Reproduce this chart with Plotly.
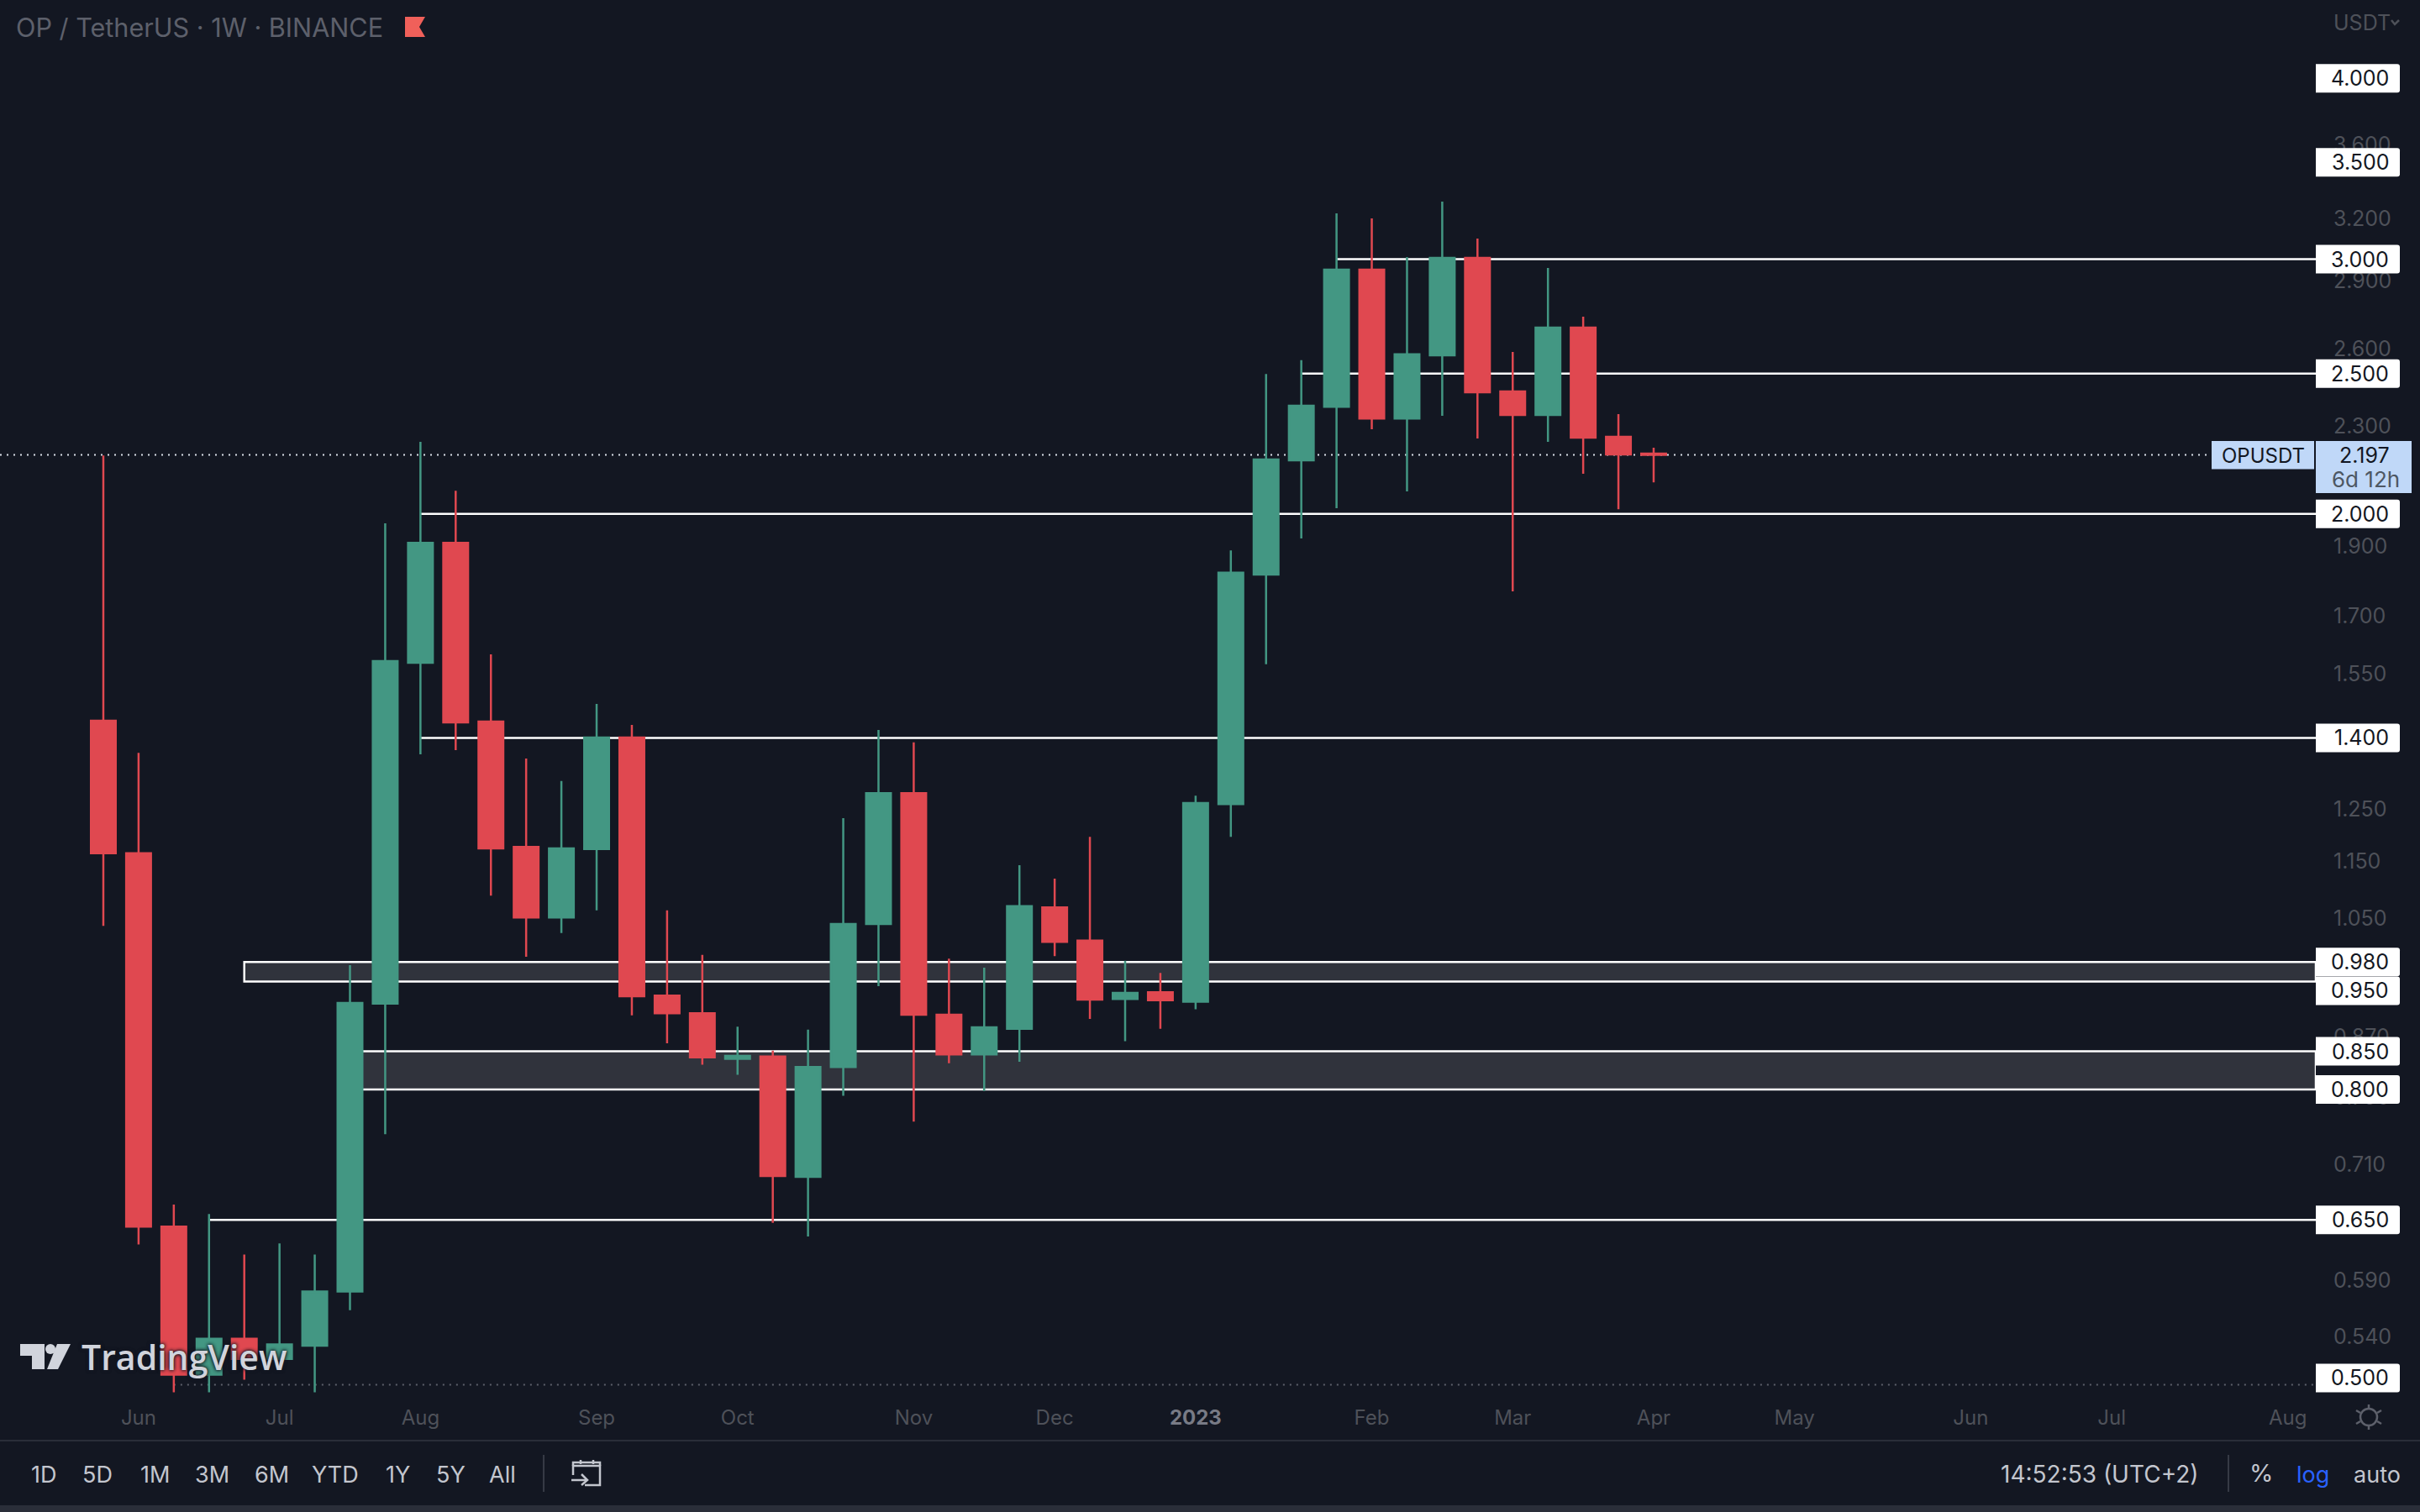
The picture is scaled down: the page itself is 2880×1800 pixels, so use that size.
import pandas as pd
import plotly.graph_objects as go
import math

first_bar = '2022-05-30'
n_bars = 45
opens = [1.439,1.165,0.643,0.508,0.538,0.521,0.532,0.58,0.917,1.578,1.91,1.437,1.177,1.052,1.173,1.401,0.929,0.903,0.84,0.843,0.696,0.829,1.041,1.282,0.901,0.846,0.881,1.069,1.014,0.924,0.934,0.92,1.26,1.816,2.178,2.372,2.95,2.328,2.574,3.006,2.43,2.341,2.69,2.261,2.201]
highs = [2.195,1.367,0.666,0.656,0.615,0.626,0.615,0.975,1.97,2.243,2.075,1.599,1.355,1.307,1.478,1.429,1.064,0.991,0.884,0.851,0.88,1.232,1.418,1.39,0.985,0.971,1.143,1.119,1.196,0.982,0.963,1.277,1.887,2.499,2.554,3.227,3.201,3.01,3.288,3.1,2.588,2.958,2.737,2.344,2.222]
lows = [1.038,0.625,0.494,0.494,0.504,0.521,0.494,0.563,0.745,1.364,1.373,1.089,0.988,1.026,1.064,0.9,0.861,0.832,0.819,0.647,0.633,0.792,0.943,0.76,0.834,0.798,0.836,0.989,0.895,0.864,0.881,0.909,1.196,1.574,1.923,2.018,2.288,2.073,2.338,2.255,1.768,2.243,2.132,2.015,2.103]
closes = [1.165,0.643,0.508,0.538,0.521,0.533,0.58,0.918,1.582,1.91,1.435,1.174,1.052,1.174,1.401,0.928,0.903,0.842,0.844,0.697,0.829,1.041,1.282,0.901,0.846,0.883,1.071,1.012,0.923,0.933,0.922,1.262,1.821,2.181,2.376,2.95,2.328,2.578,3.006,2.427,2.341,2.69,2.258,2.198,2.197]

price_ticks = [3.6,3.2,2.9,2.6,2.3,1.9,1.7,1.55,1.25,1.15,1.05,0.87,0.79,0.71,0.59,0.54]
month_ticks = ['2022-06-06','2022-07-04','2022-08-01','2022-09-05','2022-10-03','2022-11-07','2022-12-05','2023-01-02','2023-02-06','2023-03-06','2023-04-03','2023-05-01','2023-06-05','2023-07-03','2023-08-07']
month_labels = ['Jun','Jul','Aug','Sep','Oct','Nov','Dec','<b><span style="color:#787b86">2023</span></b>','Feb','Mar','Apr','May','Jun','Jul','Aug']

level_prices = [3.0,2.5,2.0,1.4,0.65]
level_starts = ['2023-01-30','2023-01-23','2022-08-01','2022-08-01','2022-06-20']
zone_lo = [0.95,0.80]
zone_hi = [0.98,0.85]
zone_starts = ['2022-06-27','2022-07-18']
floor_price = 0.5
floor_start = '2022-06-13'
last_price = 2.197
tag_prices = [4.0,3.5,3.0,2.5,2.0,1.4,0.98,0.95,0.85,0.8,0.65,0.5]
tag_shift = [0,0,0,0,0,0,0,-11,0,0,0,8]

W, H = 2880, 1800
BG = '#131722'; UP = '#439783'; DOWN = '#e04850'
AX = '#4e5159'; UI = '#c3c6ce'; INK = 'Inter, sans-serif'
AXIS_END = '2023-08-12 13:12'

dates = pd.date_range(first_bar, periods=n_bars, freq='7D')
fig = go.Figure(go.Candlestick(
    x=dates, open=opens, high=highs, low=lows, close=closes, hoverinfo='skip',
    increasing=dict(line=dict(color=UP, width=2.5), fillcolor=UP),
    decreasing=dict(line=dict(color=DOWN, width=2.5), fillcolor=DOWN), showlegend=False))

shapes, notes = [], []
def px(x, y): return f'{x/W:.5f},{1-y/H:.5f}'
def poly(pts, color, close=True, width=0, fill=True):
    d = 'M' + ' L'.join(px(*p) for p in pts) + (' Z' if close else '')
    shapes.append(dict(type='path', path=d, xref='paper', yref='paper', layer='above',
                       fillcolor=color if fill else 'rgba(0,0,0,0)',
                       line=dict(color=color, width=width)))
def rect(x0, y0, x1, y1, color):
    shapes.append(dict(type='rect', xref='paper', yref='paper', x0=x0/W, x1=x1/W, y0=1-y0/H, y1=1-y1/H,
                       fillcolor=color, line=dict(width=0), layer='above'))
def text(x, y, s, color=UI, size=27, anchor='center', **kw):
    font = dict(family=kw.pop('family', INK), size=size, color=color)
    if 'shadow' in kw: font['shadow'] = kw.pop('shadow')
    if 'weight' in kw: font['weight'] = kw.pop('weight')
    notes.append(dict(x=x/W, y=1-y/H, xref='paper', yref='paper', text=s, showarrow=False,
                      xanchor=anchor, yanchor='middle', font=font, borderpad=0, **kw))

# horizontal levels and zones, under the candles
for lo, hi, st in zip(zone_lo, zone_hi, zone_starts):
    shapes.append(dict(type='rect', xref='x', yref='y', x0=st, x1=AXIS_END, y0=lo, y1=hi, layer='below',
                       fillcolor='#30333c', line=dict(color='#ffffff', width=2.5)))
for p, st in zip(level_prices, level_starts):
    shapes.append(dict(type='line', xref='x', yref='y', x0=st, x1=AXIS_END, y0=p, y1=p, layer='below',
                       line=dict(color='#ffffff', width=2.5)))
shapes.append(dict(type='line', xref='x', yref='y', x0=floor_start, x1=AXIS_END, y0=floor_price, y1=floor_price,
                   layer='below', line=dict(color='#5d606b', width=2, dash='2px,6px')))
shapes.append(dict(type='line', xref='paper', yref='y', x0=0, x1=2632/W, y0=last_price, y1=last_price,
                   layer='below', line=dict(color='#d8dde6', width=2, dash='2px,6px')))

# white price tags on the scale
for p, s in zip(tag_prices, tag_shift):
    h = 17
    shapes.append(dict(type='path', xref='paper', yref='y', xsizemode='pixel', ysizemode='pixel',
                       xanchor=2756/W, yanchor=p, layer='above', fillcolor='#ffffff', line=dict(width=0),
                       path=f'M0,{s-h} L97,{s-h} Q100,{s-h} 100,{s-h+3} L100,{s+h-3} Q100,{s+h} 97,{s+h} L0,{s+h} Z'))
    notes.append(dict(x=2845/W, y=math.log10(p), xref='paper', yref='y', text=f'{p:.3f}', showarrow=False,
                      xanchor='right', yanchor='middle', yshift=s, font=dict(family=INK, size=25, color='#131722')))

# last-price tag
rect(2632, 525, 2754, 558.5, '#c0d8f8')
rect(2756, 525, 2870, 587, '#c0d8f8')
text(2693, 542, 'OPUSDT', '#131722', 24)
text(2845, 542, f'{last_price:.3f}', '#131722', 25, 'right')
text(2857, 570, '6d 12h', '#4d5763', 26, 'right')

# header
text(18, 32, 'OP / TetherUS · 1W · BINANCE', '#5d606b', 30.6, 'left')
poly([(482, 20), (506, 20), (499, 32), (506, 44), (482, 44)], '#f0605a')
text(2776, 27, 'USDT', AX, 25, 'left')
poly([(2846, 24), (2850, 29), (2855, 24)], AX, close=False, width=2.5, fill=False)

# watermark
poly([(24, 1600), (53, 1600), (53, 1630), (38, 1630), (38, 1614), (24, 1614)], '#d1d4dc')
shapes.append(dict(type='circle', xref='paper', yref='paper', x0=54/W, x1=66/W, y0=1-1612/H, y1=1-1600/H,
                   fillcolor='#d1d4dc', line=dict(width=0), layer='above'))
poly([(68, 1600), (84, 1600), (69, 1630), (56, 1630)], '#d1d4dc')
text(96, 1615, 'TradingView', '#d1d4dc', 41, 'left', family='Open Sans, sans-serif', weight=600,
     shadow='0 0 4px #131722, 0 0 4px #131722')

# bottom bar
rect(0, 1714, W, 1716, '#2a2e39')
rect(0, 1792, W, 1800, '#2a2e39')
for x, s in zip([52, 116, 185, 253, 323, 399, 473, 536, 598],
                ['1D', '5D', '1M', '3M', '6M', 'YTD', '1Y', '5Y', 'All']):
    text(x, 1755, s)
rect(646, 1732, 648, 1776, '#363a45')
rect(2651, 1732, 2653, 1776, '#363a45')
poly([(696, 1768), (714, 1768), (714, 1745), (682, 1745), (682, 1756)], UI, close=False, width=2.5, fill=False)
poly([(682, 1745), (682, 1741), (714, 1741), (714, 1745)], UI, close=False, width=2.5, fill=False)
poly([(691, 1738), (691, 1743)], UI, close=False, width=2.5, fill=False)
poly([(706, 1738), (706, 1743)], UI, close=False, width=2.5, fill=False)
poly([(680, 1762), (698, 1762)], UI, close=False, width=2.5, fill=False)
poly([(692, 1755), (699, 1762), (692, 1768)], UI, close=False, width=2.5, fill=False)
text(2499, 1755, '14:52:53 (UTC+2)', UI, 28)
text(2691, 1753, '%', UI, 29)
text(2752, 1755, 'log', '#2962ff')
text(2829, 1755, 'auto')

# sun icon
cx, cy = 2819, 1687
shapes.append(dict(type='circle', xref='paper', yref='paper', x0=(cx-10)/W, x1=(cx+10)/W, y0=1-(cy+10)/H, y1=1-(cy-10)/H,
                   line=dict(color='#5d606b', width=2.5), layer='above'))
for rx, ry, tx, ty in [(0, -10, 0, -15), (0, 10, 0, 15), (-10, -5, -15, -8), (10, -5, 15, -8), (-10, 5, -15, 8), (10, 5, 15, 8)]:
    poly([(cx+rx, cy+ry), (cx+tx, cy+ty)], '#5d606b', close=False, width=2.5, fill=False)

fig.update_layout(
    width=W, height=H, margin=dict(l=0, r=0, t=0, b=0), autosize=False,
    paper_bgcolor=BG, plot_bgcolor=BG, boxgap=0.2965, boxgroupgap=0,
    font=dict(family=INK), showlegend=False, shapes=shapes, annotations=notes,
    xaxis=dict(domain=[0, 2756/W], range=['2022-05-09 11:17', AXIS_END], rangeslider=dict(visible=False),
               showgrid=False, zeroline=False, showline=False, tickmode='array',
               tickvals=month_ticks, ticktext=month_labels, ticks='outside', ticklen=1, tickcolor=BG,
               tickfont=dict(family=INK, size=24, color=AX)),
    yaxis=dict(type='log', domain=[135/H, 1], range=[-0.31066, 0.65628], side='right',
               showgrid=False, zeroline=False, showline=False, tickmode='array',
               tickvals=price_ticks, ticktext=[f'{v:.3f}' for v in price_ticks], ticks='outside', ticklen=15,
               tickcolor=BG, tickfont=dict(family=INK, size=25, color=AX)))
fig.write_html('out.html', post_script="document.body.style.margin='0';document.body.style.background='#131722';",
               config=dict(displayModeBar=False))
